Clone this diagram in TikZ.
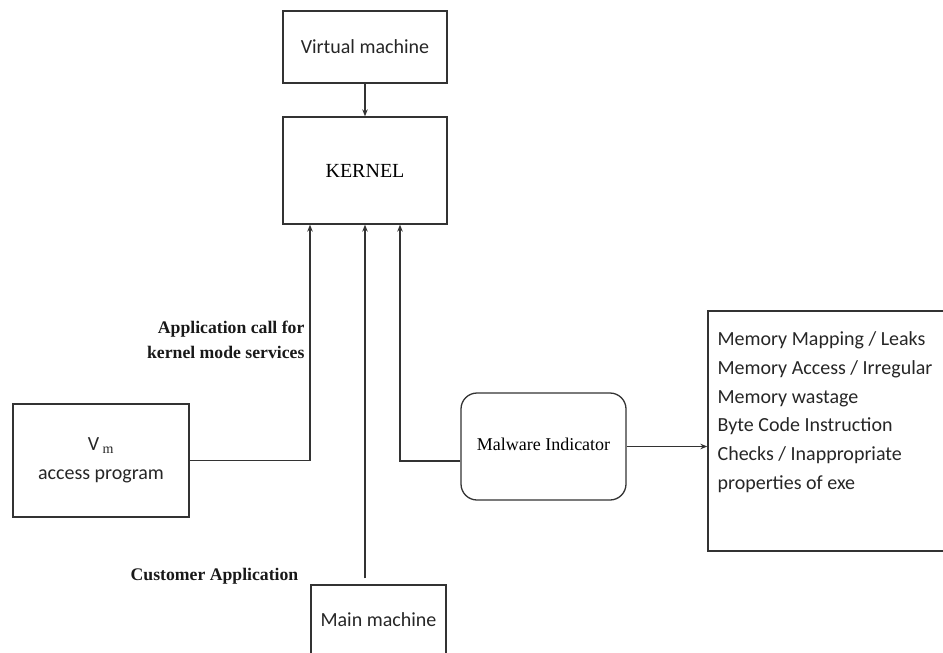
\documentclass[tikz,border=0pt]{standalone}
\usepackage{fontspec}
\setmainfont{Liberation Serif}
\newfontfamily\calib{Carlito}
\usetikzlibrary{arrows.meta}
\begin{document}
\begin{tikzpicture}[x=1pt,y=-1pt,
  line width=1.2pt, draw=black!80,
  box/.style={draw=black!80, line width=1.3pt, inner sep=0pt, align=center},
  sanslbl/.style={font=\calib\fontsize{20}{28.8}\selectfont, text=black!85},
  arr/.style={draw=black!80, line width=1.2pt, -{Stealth[length=7pt,width=5.5pt]}},
  bold/.style={font=\bfseries\fontsize{17.7}{25}\selectfont, text=black!90}]
\useasboundingbox (0,0) rectangle (943,653);
\node[box, sanslbl, minimum width=164pt, minimum height=72pt] (vmach) at (365,47) {Virtual machine};
\node[box, minimum width=164pt, minimum height=107pt, font=\fontsize{20}{24}\selectfont] (kernel) at (365,170.5) {KERNEL};
\node[box, sanslbl, minimum width=176pt, minimum height=113pt] (vmprog) at (101,460.5) {V\,$_{\mathrm{\calib m}}$\\access program};
\node[box, rounded corners=16pt, minimum width=165pt, minimum height=107pt, font=\fontsize{18}{22}\selectfont] (mal) at (543.5,446.5) {\raisebox{5pt}{Malware Indicator}};
\node[box, minimum width=244pt, minimum height=240pt] (props) at (830,431) {};
\node[sanslbl, anchor=north west, align=left, inner sep=0pt] (propstext) at (717,331) {Memory Mapping / Leaks\\Memory Access / Irregular\\Memory wastage\\Byte Code Instruction\\Checks / Inappropriate\\properties of exe};
\node[box, sanslbl, minimum width=135pt, minimum height=80pt, text depth=0pt] (mainm) at (378.5,625) {\raisebox{10pt}{Main machine}};
\node[bold, anchor=north east, align=right, inner sep=0pt] (applbl) at (305,320) {Application call for\\kernel mode services};
\node[bold, inner sep=0pt] (custlbl) at (214.5,576) {Customer Application};
\draw[arr] (vmach.south) -- (kernel.north);
\draw[arr] (vmprog.east) -| ([xshift=-55pt]kernel.south);
\draw[arr] ([xshift=-13.5pt,yshift=6pt]mainm.north) -- (kernel.south);
\draw[arr] ([yshift=-14.5pt]mal.west) -| ([xshift=35pt]kernel.south);
\draw[arr] (mal.east) -- (props.west |- mal.east);
\end{tikzpicture}
\end{document}
